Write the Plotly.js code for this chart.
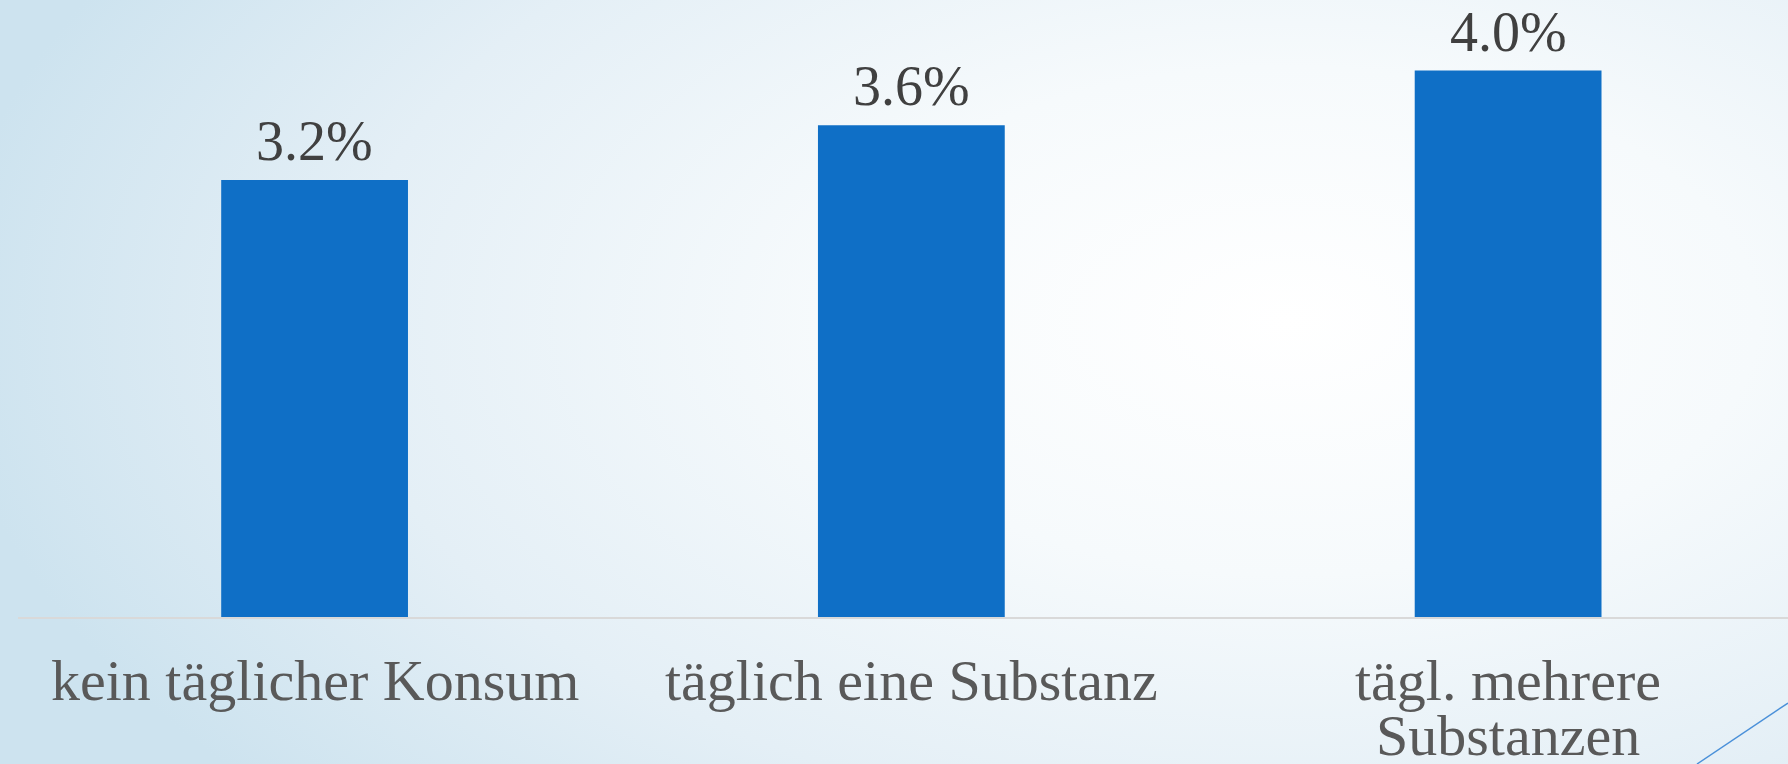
<!DOCTYPE html>
<html>
<head>
<meta charset="utf-8">
<script src="https://cdn.plot.ly/plotly-3.0.1.min.js"></script>
<style>
  html, body { margin: 0; padding: 0; width: 1788px; height: 764px; overflow: hidden; }
  body { background: radial-gradient(ellipse 75% 95% at 72% 42%, #ffffff 0%, #f6fafc 35%, #e4eff6 70%, #cde3ef 100%); }
  #chart { width: 1788px; height: 764px; }
</style>
</head>
<body>
<div id="chart"></div>
<script>
const categories = ["kein täglicher Konsum", "täglich eine Substanz", "tägl. mehrere<br>Substanzen"];
const values = [3.2, 3.6, 4.0];
const valueLabels = ["3.2%", "3.6%", "4.0%"];

const FONT = "Liberation Serif, Times New Roman, serif";

const annotations = [];
categories.forEach((c, i) => {
  c.split("<br>").forEach((line, j) => {
    annotations.push({
      x: i, y: 0, xref: "x", yref: "paper",
      xanchor: "center", yanchor: "top",
      yshift: -29 - j * 55,
      text: line, showarrow: false,
      font: { family: FONT, size: 58, color: "#595959" }
    });
  });
  annotations.push({
    x: i, y: values[i], xref: "x", yref: "y",
    xanchor: "center", yanchor: "bottom", yshift: 6,
    text: valueLabels[i], showarrow: false,
    font: { family: FONT, size: 56, color: "#404040" }
  });
});

const data = [{
  type: "bar",
  x: categories.map((c, i) => i),
  y: values,
  marker: { color: "#0f6fc6" },
  hoverinfo: "none"
}];

const layout = {
  width: 1788, height: 764,
  margin: { l: 18, r: 0, t: 0, b: 147, pad: 0 },
  paper_bgcolor: "rgba(0,0,0,0)",
  plot_bgcolor: "rgba(0,0,0,0)",
  bargap: 0.687,
  showlegend: false,
  xaxis: {
    range: [-0.497, 2.469],
    showticklabels: false, ticks: "",
    showgrid: false, zeroline: false,
    showline: true, linecolor: "#d9d9d9", linewidth: 2
  },
  yaxis: {
    range: [0, 4.517],
    visible: false, showgrid: false, zeroline: false
  },
  annotations: annotations,
  shapes: [{
    type: "line", xref: "paper", yref: "paper",
    x0: (1697 - 18) / 1770, y0: (617 - 764) / 617,
    x1: 1.0, y1: (617 - 703) / 617,
    line: { color: "#4a90d9", width: 1.5 }
  }]
};

Plotly.newPlot("chart", data, layout, { staticPlot: true, displayModeBar: false });
</script>
</body>
</html>
